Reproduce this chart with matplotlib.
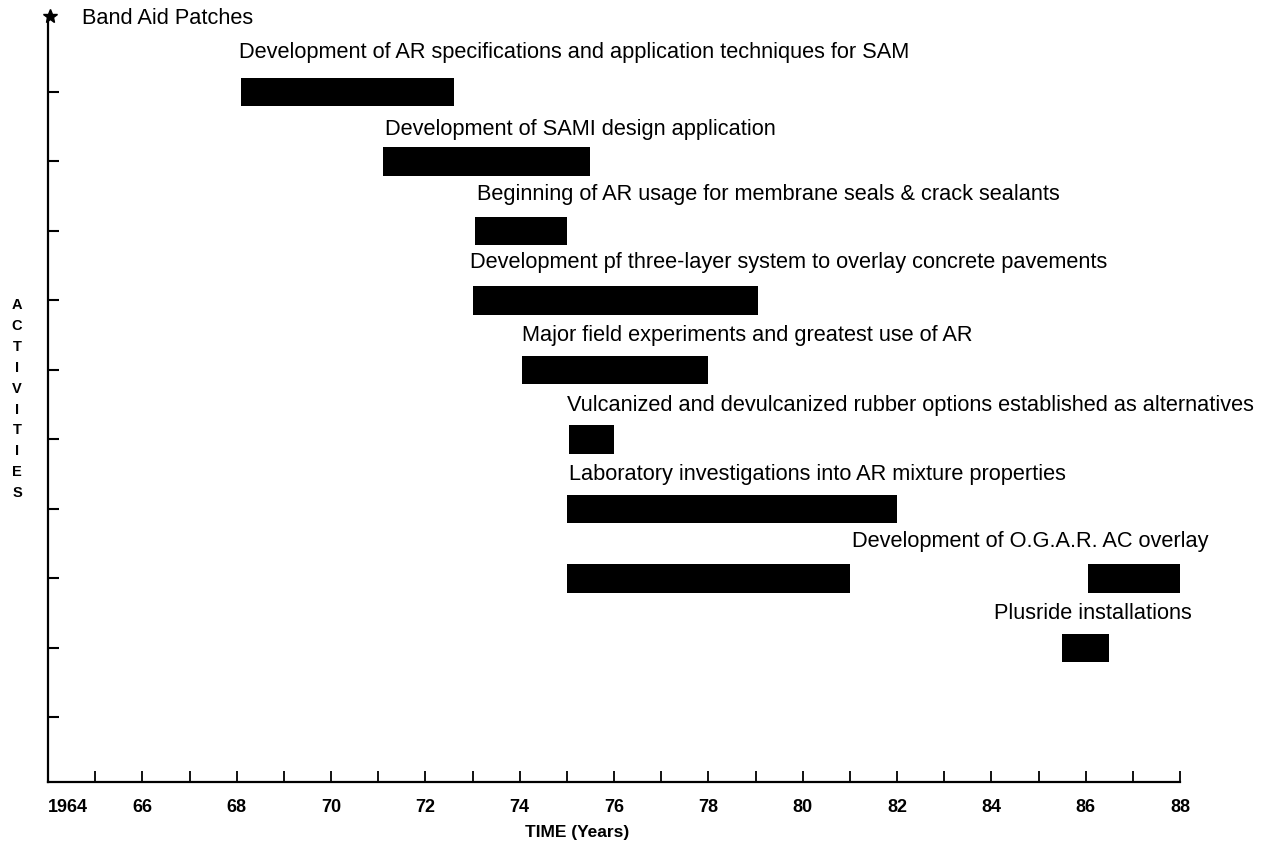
import matplotlib.pyplot as plt

plt.rcParams['font.family'] = ['Liberation Sans', 'DejaVu Sans']

# Activities (top to bottom), years after 1900
labels = [
    "Development of AR specifications and application techniques for SAM",
    "Development of SAMI design application",
    "Beginning of AR usage for membrane seals & crack sealants",
    "Development pf three-layer system to overlay concrete pavements",
    "Major field experiments and greatest use of AR",
    "Vulcanized and devulcanized rubber options established as alternatives",
    "Laboratory investigations into AR mixture properties",
    "Development of O.G.A.R. AC overlay",
    "Plusride installations",
]
# bar segments: row, start year, end year
bar_row = [0, 1, 2, 3, 4, 5, 6, 7, 7, 8]
bar_start = [68.1, 71.1, 73.05, 73.0, 74.05, 75.05, 75.0, 75.0, 86.05, 85.5]
bar_end = [72.6, 75.5, 75.0, 79.05, 78.0, 76.0, 82.0, 81.0, 88.0, 86.5]

# where each label sits (year of left edge, row)
label_x = [68.05, 71.15, 73.1, 72.95, 74.05, 75.0, 75.05, 81.05, 84.05]
label_y = [-0.56, 0.55, 1.48, 2.46, 3.50, 4.52, 5.51, 6.47, 7.51]

fig = plt.figure(figsize=(12.65, 8.43), dpi=100)
ax = fig.add_axes([48 / 1265, 1 - 782 / 843, 1132 / 1265, (782 - 16) / 843])

for r, s, e in zip(bar_row, bar_start, bar_end):
    ax.barh(r, e - s, left=s, height=0.41, color='black')

for txt, x, y in zip(labels, label_x, label_y):
    ax.text(x, y, txt, fontsize=15.7, va='center', ha='left')

# Band Aid Patches marker at top of axis
ax.plot([64.05], [-1.09], marker='*', color='black', ms=10, clip_on=False)
ax.text(64.72, -1.06, "Band Aid Patches", fontsize=15.7, va='center', ha='left')

ax.set_xlim(64, 88)
ax.set_ylim(9.93, -1.09)

ax.spines['top'].set_visible(False)
ax.spines['right'].set_visible(False)
ax.spines['left'].set_linewidth(1.6)
ax.spines['bottom'].set_linewidth(1.6)

ax.set_yticks(range(10))
ax.set_yticklabels([])
ax.tick_params(axis='y', direction='in', length=8, width=1.5)

years = list(range(64, 89, 2))
ax.set_xticks(years)
ax.set_xticklabels(['1964'] + [str(y) for y in years[1:]], fontsize=13, fontweight='bold')
ax.set_xticks(range(65, 89, 2), minor=True)
ax.tick_params(axis='x', which='both', direction='in', length=8, width=1.3, pad=12)
ax.get_xticklabels()[0].set_horizontalalignment('left')

ax.set_xlabel("TIME (Years)", fontsize=12.5, fontweight='bold', va='center')
ax.xaxis.set_label_coords((577 - 48) / 1132, (782 - 833) / 766)

for i, ch in enumerate("ACTIVITIES"):
    fig.text(17 / 1265, 1 - (305 + i * 20.9) / 843, ch, fontsize=10.5,
             fontweight='bold', ha='center', va='center')

fig.savefig('out.png', dpi=100)
